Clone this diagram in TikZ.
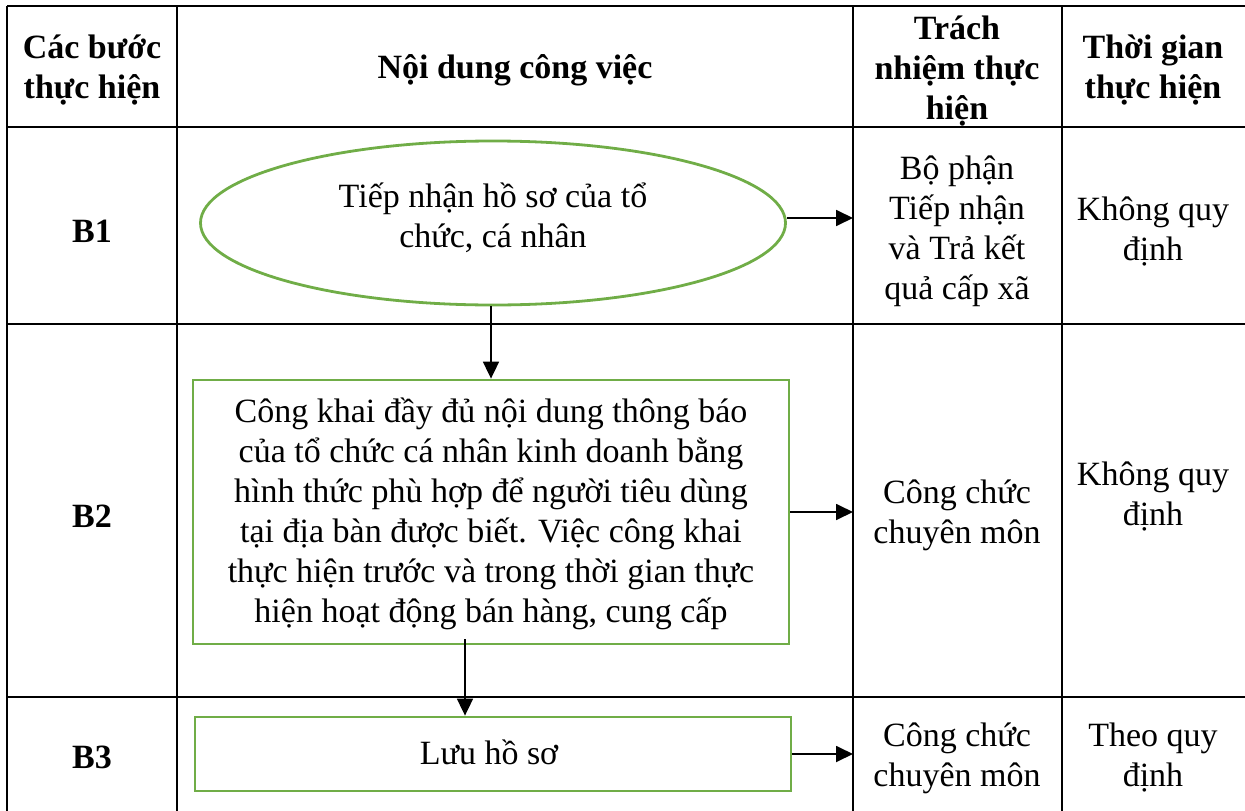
\documentclass[tikz,border=0pt]{standalone}
\usepackage{fontspec}
\setmainfont{Liberation Serif}
\usetikzlibrary{shapes.geometric,arrows.meta,calc}
\definecolor{boxgreen}{RGB}{112,173,71}
\tikzset{
  txt/.style={align=center,inner sep=0pt,font=\fontsize{34}{40}\selectfont},
  hdr/.style={txt,font=\fontsize{34}{40}\selectfont\bfseries},
  grid/.style={line width=1.4pt,black},
  gbox/.style={draw=boxgreen,line width=2.8pt,txt},
  conn/.style={line width=1.8pt,-{Triangle[length=17pt,width=16pt]}}
}
\begin{document}
\begin{tikzpicture}[x=1pt,y=-1pt]
\useasboundingbox (0,0) rectangle (1245,811);
% table grid
\draw[grid] (7,6) -- (1245,6);
\draw[grid] (7,127) -- (1245,127);
\draw[grid] (7,324) -- (1245,324);
\draw[grid] (7,697) -- (1245,697);
\draw[grid] (7,6) -- (7,811);
\draw[grid] (177,6) -- (177,811);
\draw[grid] (853,6) -- (853,811);
\draw[grid] (1062,6) -- (1062,811);
\coordinate (c3) at (853,0);
% headers
\node[hdr] (h1) at (92,70) {Các bước\\thực hiện};
\node[hdr] (h2) at (515,70) {Nội dung công việc};
\node[hdr] (h3) at (957,71) {Trách\\nhiệm thực\\hiện};
\node[hdr] (h4) at (1153,70) {Thời gian\\thực hiện};
% step labels
\node[hdr] (s1) at (92,231) {B1};
\node[hdr] (s2) at (92,516) {B2};
\node[hdr] (s3) at (92,757) {B3};
% shapes
\node[gbox,ellipse,minimum width=585pt,minimum height=164pt] (e1) at (493,223) {};
\node[txt] (e1t) at (493,218) {Tiếp nhận hồ sơ của tổ\\chức, cá nhân};
\node[gbox,rectangle,minimum width=596pt,minimum height=264pt] (b2) at (491,512) {};
\node[txt] (b2t) at (491,514) {Công khai đầy đủ nội dung thông báo\\của tổ chức cá nhân kinh doanh bằng\\hình thức phù hợp để người tiêu dùng\\tại địa bàn được biết. Việc công khai\\thực hiện trước và trong thời gian thực\\hiện hoạt động bán hàng, cung cấp};
\node[gbox,rectangle,minimum width=596pt,minimum height=74pt] (b3) at (493,754) {};
\node[txt] (b3t) at (489,752) {Lưu hồ sơ};
% responsibility
\node[txt] (r1) at (957,231) {Bộ phận\\Tiếp nhận\\và Trả kết\\quả cấp xã};
\node[txt] (r2) at (957,515) {Công chức\\chuyên môn};
\node[txt] (r3) at (957,758) {Công chức\\chuyên môn};
% time
\node[txt] (t1) at (1153,231) {Không quy\\định};
\node[txt] (t2) at (1153,496) {Không quy\\định};
\node[txt] (t3) at (1153,758) {Theo quy\\định};
% connectors
\draw[conn] ($(e1.east)+(0,-5)$) -- ($(e1.east -| c3)+(0,-5)$);
\draw[conn] ($(e1.south)+(-2,0)$) -- (b2.north);
\draw[conn] (b2.east) -- (b2.east -| c3);
\draw[conn] ($(b2.south)+(-26,-6)$) -- ($(b3.north)+(-28,0)$);
\draw[conn] (b3.east) -- (b3.east -| c3);
\end{tikzpicture}
\end{document}
